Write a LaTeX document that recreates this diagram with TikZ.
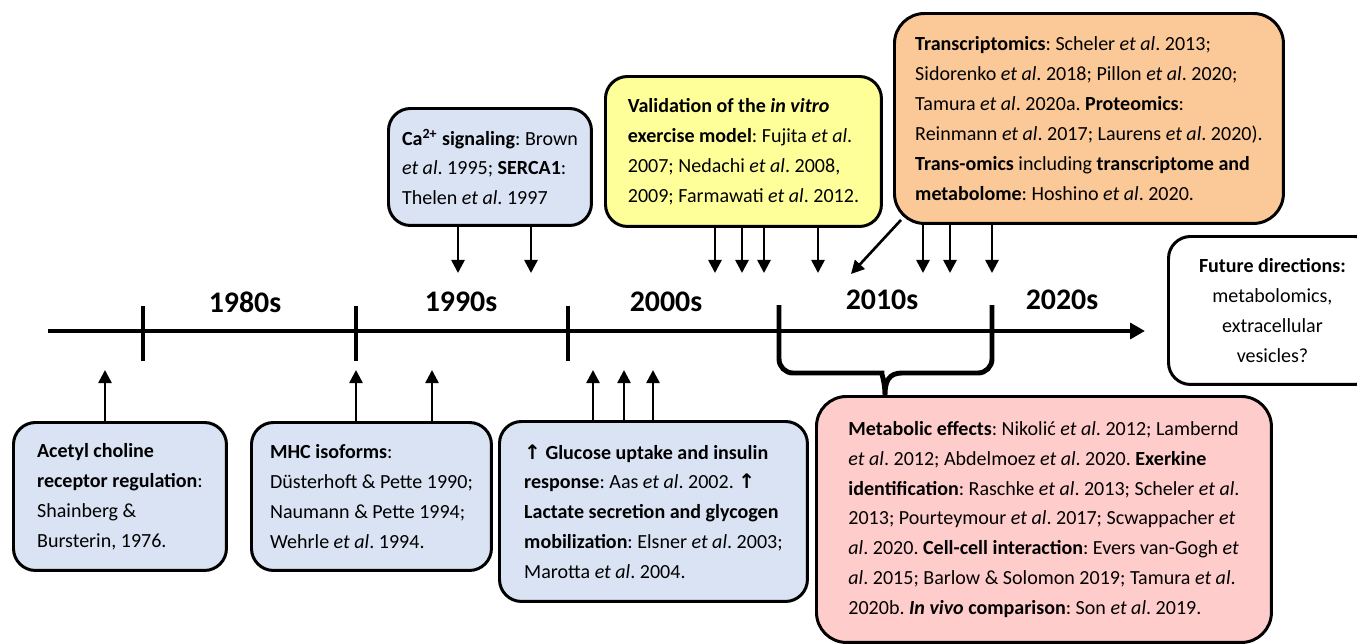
\documentclass[tikz,border=0pt]{standalone}
\usepackage{fontspec}
\setmainfont{Carlito}
\newfontfamily\symfont{DejaVu Sans}
\usepackage{xcolor}
\usetikzlibrary{arrows.meta,calc}
\definecolor{boxblue}{RGB}{218,227,243}
\definecolor{boxyellow}{RGB}{255,255,153}
\definecolor{boxorange}{RGB}{251,201,152}
\definecolor{boxpink}{RGB}{255,204,204}
\newcommand{\etal}{\textit{et al}}
\newcommand{\uparr}{{\symfont\bfseries ↑}}
\frenchspacing

\begin{document}
\begin{tikzpicture}[x=0.02cm, y=-0.02cm]
    \tikzstyle{block} = [draw, line width=1.7pt, rounded corners=0.44cm, align=left, inner sep=0pt, anchor=north west, font=\fontsize{11.4}{17}\selectfont]
    \tikzstyle{decade} = [font=\fontsize{17}{20}\selectfont\bfseries]
    \tikzstyle{arrow} = [line width=1.5pt, -{Triangle[length=7.5pt,width=7.5pt]}]
    \useasboundingbox (0,0) rectangle (1357,643);

    % boxes below the line
    \node [block, fill=boxblue, minimum width=4.26cm, minimum height=2.96cm] (acetyl) at (12,421)
        {\textbf{Acetyl choline}\\ \textbf{receptor regulation}:\\ Shainberg \&\\ Bursterin, 1976.};
    \node [block, fill=boxblue, minimum width=4.8cm, minimum height=2.96cm] (mhc) at (250,421)
        {\textbf{MHC isoforms}:\\ Düsterhoft \& Pette 1990;\\ Naumann \& Pette 1994;\\ Wehrle \etal. 1994.};
    \node [block, fill=boxblue, minimum width=6.16cm, minimum height=3.6cm] (glucose) at (498,420)
        {\uparr\ \textbf{Glucose uptake and insulin}\\ \textbf{response}: Aas \etal. 2002. \uparr\\ \textbf{Lactate secretion and glycogen}\\ \textbf{mobilization}: Elsner \etal. 2003;\\ Marotta \etal. 2004.};
    \node [block, fill=boxpink, rounded corners=0.6cm, minimum width=9.1cm, minimum height=4.92cm] (metab) at (815,395)
        {\textbf{Metabolic effects}: Nikolić \etal. 2012; Lambernd\\ \etal. 2012; Abdelmoez \etal. 2020. \textbf{Exerkine}\\ \textbf{identification}: Raschke \etal. 2013; Scheler \etal.\\ 2013; Pourteymour \etal. 2017; Scwappacher \textit{et}\\ \textit{al}. 2020. \textbf{Cell-cell interaction}: Evers van-Gogh \textit{et}\\ \textit{al}. 2015; Barlow \& Solomon 2019; Tamura \etal.\\ 2020b. \textbf{\textit{In vivo} comparison}: Son \etal. 2019.};

    % boxes above the line
    \node [block, fill=boxblue, minimum width=4.06cm, minimum height=2.34cm] (ca) at (387,107)
        {\textbf{Ca\textsuperscript{2+} signaling}: Brown\\ \etal. 1995; \textbf{SERCA1}:\\ Thelen \etal. 1997};
    \node [block, fill=boxyellow, minimum width=5.52cm, minimum height=3cm] (vitro) at (604,75)
        {\textbf{Validation of the \textit{in vitro}}\\ \textbf{exercise model}: Fujita \etal.\\ 2007; Nedachi \etal. 2008,\\ 2009; Farmawati \etal. 2012.};
    \node [block, fill=boxorange, rounded corners=0.6cm, minimum width=7.78cm, minimum height=4.2cm] (omics) at (893,12)
        {\textbf{Transcriptomics}: Scheler \etal. 2013;\\ Sidorenko \etal. 2018; Pillon \etal. 2020;\\ Tamura \etal. 2020a. \textbf{Proteomics}:\\ Reinmann \etal. 2017; Laurens \etal. 2020).\\ \textbf{Trans-omics} including \textbf{transcriptome and}\\ \textbf{metabolome}: Hoshino \etal. 2020.};
    \node [block, fill=white, align=center, minimum width=4.16cm, minimum height=2.96cm] (future) at (1167,235)
        {\textbf{Future directions:}\\ metabolomics,\\ extracellular\\ vesicles?};

    % time line
    \coordinate (tstart) at (48,331);
    \coordinate (tend) at (1145,331);
    \draw [line width=2.8pt, -{Triangle[length=8.5pt,width=9pt]}] (tstart) -- (tend);
    \foreach \x in {143,356,568}
        \draw [line width=2.3pt] (\x,306) -- (\x,361);

    \node [decade] (d80) at (245,302) {1980s};
    \node [decade] (d90) at (461,302) {1990s};
    \node [decade] (d00) at (666,302) {2000s};
    \node [decade] (d10) at (882,300) {2010s};
    \node [decade] (d20) at (1062,300) {2020s};

    % brace under the 2010s
    \coordinate (bl) at (779,305);
    \coordinate (br) at (992,305);
    \coordinate (bcusp) at (885,395);
    \draw [line width=2.8pt] (bl) [rounded corners=0.28cm] -- (779,373) -- (868,373) [sharp corners]
        .. controls (881,373) and (885,381) .. (bcusp)
        .. controls (885,381) and (889,373) .. (902,373) [rounded corners=0.28cm] -- (992,373) -- (br);

    % arrow tips on the line
    \foreach \n/\x in {a/105,b/356,c/432,d/593,e/624,f/653}
        \coordinate (up\n) at (\x,370);
    \foreach \n/\x in {a/458,b/531,c/715,d/742,e/764,f/818,g/923,h/950,i/992}
        \coordinate (dn\n) at (\x,273);
    \coordinate (diag) at (851,274);

    \draw [arrow] (acetyl.north -| upa) -- (upa);
    \draw [arrow] (mhc.north -| upb) -- (upb);
    \draw [arrow] (mhc.north -| upc) -- (upc);
    \foreach \n in {d,e,f}
        \draw [arrow] (glucose.north -| up\n) -- (up\n);
    \draw [arrow] (ca.south -| dna) -- (dna);
    \draw [arrow] (ca.south -| dnb) -- (dnb);
    \foreach \n in {c,d,e,f}
        \draw [arrow] (vitro.south -| dn\n) -- (dn\n);
    \foreach \n in {g,h,i}
        \draw [arrow] (omics.south -| dn\n) -- (dn\n);
    \draw [arrow] ($(omics.south west)+(8,-5)$) -- (diag);
\end{tikzpicture}
\end{document}
